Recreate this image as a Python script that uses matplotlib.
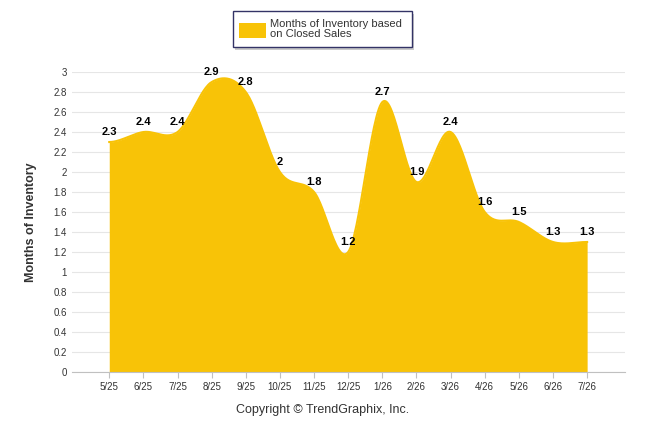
import numpy as np
import matplotlib
matplotlib.use('Agg')
import matplotlib.pyplot as plt
from matplotlib.patches import Rectangle

months = ['5/25', '6/25', '7/25', '8/25', '9/25', '10/25', '11/25', '12/25',
          '1/26', '2/26', '3/26', '4/26', '5/26', '6/26', '7/26']
inventory = [2.3, 2.4, 2.4, 2.9, 2.8, 2, 1.8, 1.2, 2.7, 1.9, 2.4, 1.6, 1.5, 1.3, 1.3]
yticks = [0, 0.2, 0.4, 0.6, 0.8, 1, 1.2, 1.4, 1.6, 1.8, 2, 2.2, 2.4, 2.6, 2.8, 3]

plt.rcParams['font.family'] = ['Liberation Sans', 'DejaVu Sans']
gold = '#F8C307'

# smooth curve through the points (cardinal spline)
y = np.array(inventory)
x = np.arange(len(y))
m = np.zeros(len(y))
m[1:-1] = (y[2:] - y[:-2]) / 2
xs, ys = [], []
for i in range(len(y) - 1):
    t = np.linspace(0, 1, 30)
    h00 = 2*t**3 - 3*t**2 + 1
    h10 = t**3 - 2*t**2 + t
    h01 = -2*t**3 + 3*t**2
    h11 = t**3 - t**2
    xs.extend(i + t)
    ys.extend(h00*y[i] + h10*m[i] + h01*y[i+1] + h11*m[i+1])

fig = plt.figure(figsize=(6.46, 4.34), dpi=100)
ax = fig.add_axes([0.111, 0.143, 0.856, 0.691])
ax.fill_between(xs, ys, 0, color=gold, lw=0)
ax.plot(xs, ys, color=gold, lw=1.5)
for i, v in enumerate(inventory):
    ax.text(i, v + 0.05, f'{v:g}', ha='center', va='bottom', fontsize=8, fontweight='bold')

ax.set_xlim(-1.1, 15.1)
ax.set_ylim(0, 3)
ax.set_yticks(yticks)
ax.set_yticklabels([f'{t:g}' for t in yticks], fontsize=7, color='#333333')
ax.set_xticks(x)
ax.set_xticklabels(months, fontsize=7, color='#333333')
ax.grid(axis='y', color='#e6e6e6', lw=0.8)
ax.set_axisbelow(True)
for s in ['top', 'right', 'left']:
    ax.spines[s].set_visible(False)
ax.spines['bottom'].set_color('#c0c0c0')
ax.tick_params(axis='y', length=0)
ax.tick_params(axis='x', length=4, color='#c0c0c0')
ax.set_ylabel('Months of Inventory', fontsize=9, fontweight='bold', color='#333333', labelpad=12)
fig.text(0.5, 0.048, 'Copyright © TrendGraphix, Inc.', ha='center', fontsize=9, color='#333333')

# legend box
fig.patches.append(Rectangle((0.364, 0.885), 0.277, 0.083, transform=fig.transFigure,
                             facecolor='#999999', edgecolor='none', alpha=0.5))
fig.patches.append(Rectangle((0.360, 0.892), 0.277, 0.083, transform=fig.transFigure,
                             facecolor='white', edgecolor='#333366', lw=1))
fig.patches.append(Rectangle((0.370, 0.912), 0.042, 0.035, transform=fig.transFigure,
                             facecolor=gold, edgecolor='none'))
fig.text(0.418, 0.934, 'Months of Inventory based\non Closed Sales', fontsize=8,
         va='center', color='#333333', linespacing=1.0)

fig.savefig('out.png', dpi=100)
